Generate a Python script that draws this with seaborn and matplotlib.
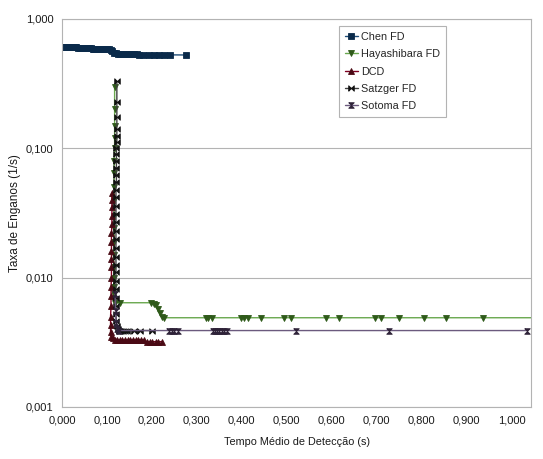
import numpy as np
import matplotlib
matplotlib.use("Agg")
import matplotlib.pyplot as plt
from matplotlib.ticker import FixedLocator, FuncFormatter
import seaborn as sns

# Chen FD
chen_x = [0.000, 0.004, 0.008, 0.012, 0.016, 0.020, 0.024, 0.028, 0.032, 0.036,
          0.040, 0.044, 0.048, 0.052, 0.056, 0.060, 0.064, 0.068, 0.072, 0.076,
          0.080, 0.084, 0.088, 0.092, 0.096, 0.100, 0.104, 0.108, 0.112, 0.116,
          0.120, 0.125, 0.130, 0.136, 0.142, 0.148, 0.154, 0.160, 0.166, 0.172,
          0.180, 0.193, 0.204, 0.216, 0.227, 0.240, 0.275]
chen_y = [0.612, 0.611, 0.610, 0.609, 0.608, 0.607, 0.606, 0.605, 0.603, 0.601,
          0.599, 0.597, 0.596, 0.595, 0.594, 0.593, 0.592, 0.591, 0.590, 0.589,
          0.588, 0.587, 0.586, 0.585, 0.584, 0.583, 0.582, 0.578, 0.565, 0.550,
          0.543, 0.540, 0.538, 0.537, 0.536, 0.535, 0.534, 0.533, 0.532, 0.531,
          0.530, 0.530, 0.529, 0.529, 0.528, 0.528, 0.527]

# Hayashibara FD
haya_x = [0.117, 0.117, 0.117, 0.117, 0.117, 0.116, 0.116, 0.116, 0.116, 0.116,
          0.116, 0.116, 0.115, 0.115, 0.115, 0.115, 0.115, 0.116, 0.118,
          0.128, 0.198, 0.204, 0.209, 0.213, 0.217, 0.222,
          0.227, 0.320, 0.324, 0.333, 0.398, 0.404, 0.413, 0.442, 0.493, 0.509,
          0.587, 0.616, 0.696, 0.709, 0.749, 0.804, 0.853, 0.936, 1.200]
haya_y = [0.300, 0.200, 0.150, 0.120, 0.100, 0.080, 0.065, 0.050, 0.040, 0.030,
          0.024, 0.019, 0.015, 0.012, 0.010, 0.0085, 0.0075, 0.0068, 0.0064,
          0.0064, 0.0064, 0.0063, 0.0061, 0.0057, 0.0053, 0.0050,
          0.0049, 0.0049, 0.0049, 0.0049, 0.0049, 0.0049, 0.0049, 0.0049, 0.0049, 0.0049,
          0.0049, 0.0049, 0.0049, 0.0049, 0.0049, 0.0049, 0.0049, 0.0049, 0.0049]

# DCD
dcd_x = [0.111, 0.111, 0.111, 0.111, 0.111, 0.110, 0.110, 0.110, 0.110, 0.110,
         0.110, 0.109, 0.109, 0.109, 0.108, 0.108, 0.108, 0.110, 0.113, 0.117,
         0.122, 0.128, 0.134, 0.140, 0.146, 0.152, 0.158, 0.164, 0.170, 0.176,
         0.182, 0.188, 0.195, 0.200, 0.208, 0.214, 0.222]
dcd_y = [0.045, 0.040, 0.035, 0.030, 0.026, 0.022, 0.019, 0.016, 0.014, 0.012,
         0.010, 0.0085, 0.0072, 0.0060, 0.0050, 0.0043, 0.0038, 0.0035, 0.0034, 0.0033,
         0.0033, 0.0033, 0.0033, 0.0033, 0.0033, 0.0033, 0.0033, 0.0033, 0.0033, 0.0033,
         0.0033, 0.0032, 0.0032, 0.0032, 0.0032, 0.0032, 0.0032]

# Satzger FD
satz_x = [0.122, 0.122, 0.122, 0.122, 0.122, 0.122, 0.121, 0.121, 0.121, 0.121,
          0.121, 0.121, 0.120, 0.120, 0.120, 0.120, 0.120, 0.120, 0.120, 0.120,
          0.120, 0.120, 0.120, 0.120, 0.120, 0.120, 0.120, 0.120, 0.121, 0.122,
          0.124, 0.126, 0.130, 0.135, 0.140, 0.145, 0.160, 0.174, 0.200]
satz_y = [0.330, 0.227, 0.174, 0.141, 0.124, 0.112, 0.100, 0.090, 0.080, 0.070,
          0.062, 0.055, 0.048, 0.042, 0.036, 0.031, 0.027, 0.023, 0.020, 0.017,
          0.0145, 0.0125, 0.0110, 0.0095, 0.0082, 0.0070, 0.0060, 0.0052, 0.0046, 0.0042,
          0.0040, 0.0039, 0.0039, 0.0039, 0.0039, 0.0039, 0.0039, 0.0039, 0.0039]

# Sotoma FD
soto_x = [0.118, 0.119, 0.120, 0.122, 0.126, 0.238, 0.245, 0.250, 0.258, 0.335,
          0.340, 0.345, 0.350, 0.355, 0.360, 0.368, 0.520, 0.727, 1.035]
soto_y = [0.0075, 0.0055, 0.0045, 0.0040, 0.0039, 0.0039, 0.0039, 0.0039, 0.0039, 0.0039,
          0.0039, 0.0039, 0.0039, 0.0039, 0.0039, 0.0039, 0.0039, 0.0039, 0.0039]

x_ticks = [0.0, 0.1, 0.2, 0.3, 0.4, 0.5, 0.6, 0.7, 0.8, 0.9, 1.0]
y_ticks = [0.001, 0.01, 0.1, 1.0]

sns.set_style("white")
plt.rcParams['font.family'] = ['Liberation Sans', 'DejaVu Sans']

bowtie = [(-1, -1), (-1, 1), (1, -1), (1, 1), (-1, -1)]
hourglass = [(-1, 1), (1, 1), (-1, -1), (1, -1), (-1, 1)]

fig = plt.figure(figsize=(5.43, 4.59), dpi=100)
ax = fig.add_axes([62 / 543, 52 / 459, 469 / 543, 388 / 459])

series = [
    ("Chen FD", chen_x, chen_y, "#1f4e79", "#0a2a4a", "s", 4.5),
    ("Hayashibara FD", haya_x, haya_y, "#6aa84f", "#2f5a1a", "v", 4),
    ("DCD", dcd_x, dcd_y, "#7e0021", "#4a0a14", "^", 4),
    ("Satzger FD", satz_x, satz_y, "#404040", "#111111", bowtie, 4),
    ("Sotoma FD", soto_x, soto_y, "#6b5a7e", "#2e2238", hourglass, 4),
]
for name, xs, ys, lc, mc, mk, ms in series:
    sns.lineplot(x=xs, y=ys, ax=ax, sort=False, estimator=None, color=lc,
                 linewidth=1.0, marker=mk, markersize=ms, markerfacecolor=mc,
                 markeredgecolor=mc, markeredgewidth=0.6, label=name)

ax.set_yscale("log")
ax.set_xlim(0, 1.043)
ax.set_ylim(0.001, 1.0)
ax.xaxis.set_major_locator(FixedLocator(x_ticks))
ax.yaxis.set_major_locator(FixedLocator(y_ticks))
ax.yaxis.set_minor_locator(FixedLocator([]))
fmt = FuncFormatter(lambda v, p: f"{v:.3f}".replace(".", ","))
ax.xaxis.set_major_formatter(fmt)
ax.yaxis.set_major_formatter(fmt)

ax.grid(axis="y", color="#b3b3b3", linewidth=0.8)
ax.grid(axis="x", visible=False)
for s in ax.spines.values():
    s.set_color("#b3b3b3")
    s.set_linewidth(0.8)
ax.tick_params(axis="both", which="major", direction="out", length=4,
               width=0.8, color="#b3b3b3", labelsize=8, pad=2, labelcolor="#1a1a1a")

ax.set_xlabel("Tempo Médio de Detecção (s)", fontsize=7.8, color="#1a1a1a")
ax.set_ylabel("Taxa de Enganos (1/s)", fontsize=8.5, color="#1a1a1a")
ax.xaxis.set_label_coords(0.5, -0.078)
ax.yaxis.set_label_coords(-0.088, 0.5)

leg = ax.legend(loc="upper left", bbox_to_anchor=(0.58, 0.995), fontsize=7.8,
                frameon=True, fancybox=False, edgecolor="#b3b3b3", framealpha=1,
                handlelength=1.2, handletextpad=0.3, borderpad=0.5, labelspacing=0.68)
leg.get_frame().set_linewidth(0.8)

fig.savefig("out.png", dpi=100, facecolor="white")
